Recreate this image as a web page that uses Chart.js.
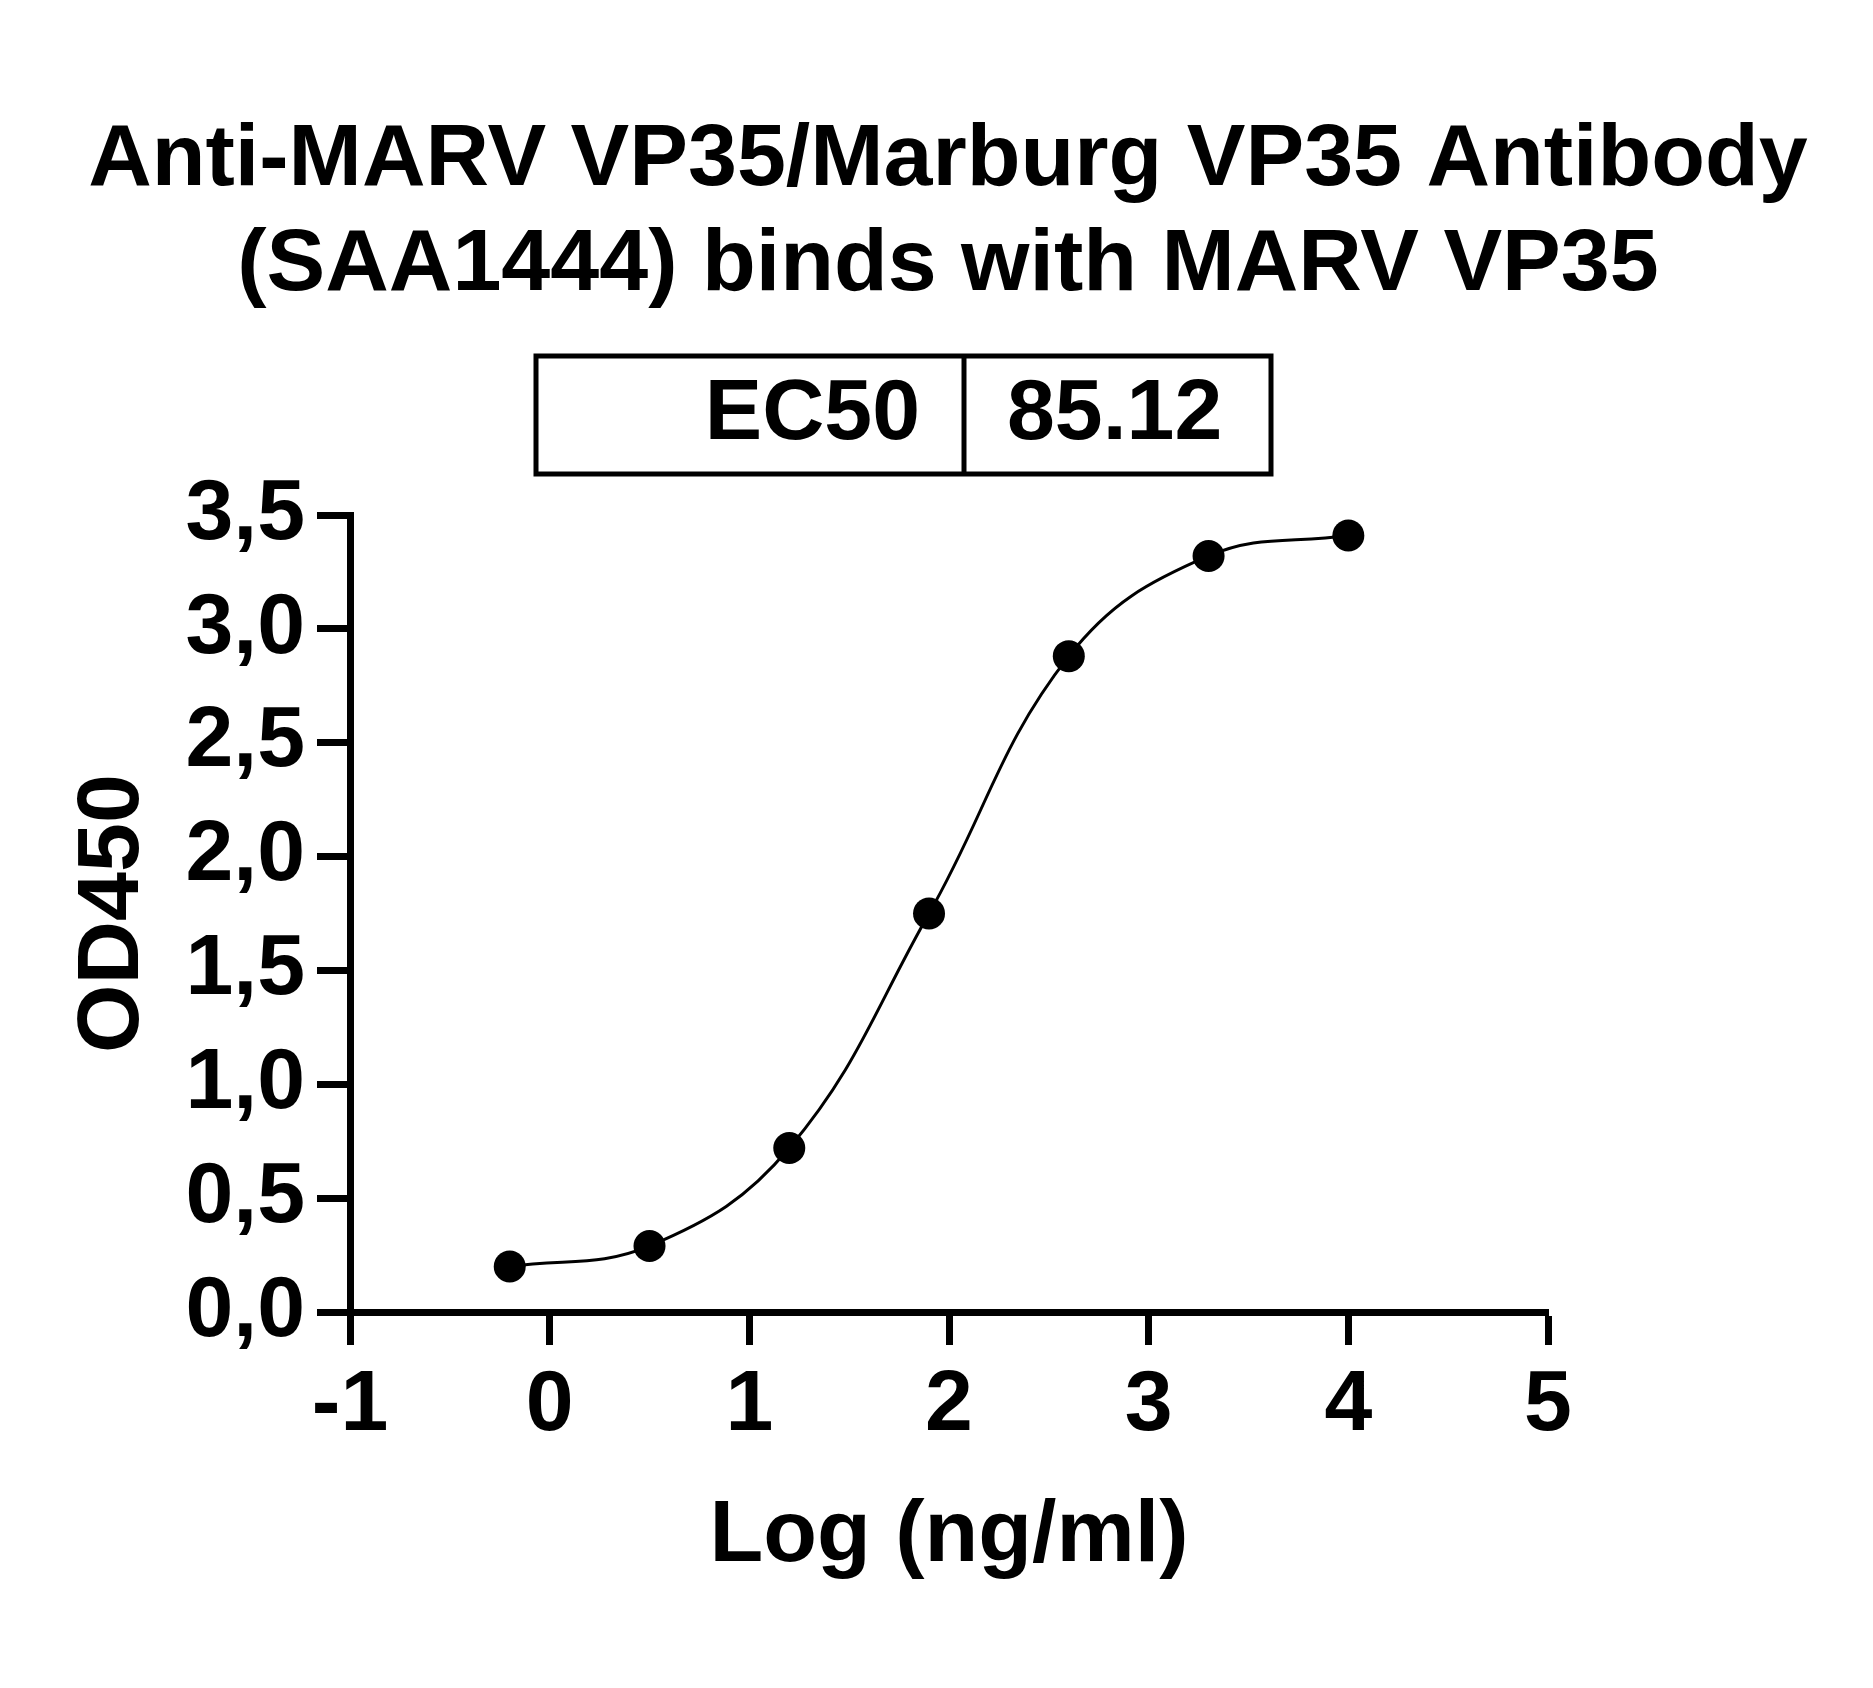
<!DOCTYPE html>
<html>
<head>
<meta charset="utf-8">
<title>Anti-MARV VP35 binding curve</title>
<script src="https://cdn.jsdelivr.net/npm/chart.js@4.4.1/dist/chart.umd.min.js"></script>
<style>
  html, body { margin: 0; padding: 0; background: #fff; }
  #wrap { width: 1873px; height: 1688px; position: relative; }
</style>
</head>
<body>
<div id="wrap"><canvas id="curveChart"></canvas></div>
<script>
// data
const logConc = [-0.2, 0.5, 1.2, 1.9, 2.6, 3.3, 4.0];
const od450 = [0.20, 0.29, 0.72, 1.75, 2.88, 3.32, 3.41];

// tick labels (comma decimals like the original)
const xTickLabels = ['-1', '0', '1', '2', '3', '4', '5'];
const yTickLabels = ['0,0', '0,5', '1,0', '1,5', '2,0', '2,5', '3,0', '3,5'];

const titleLines = ['Anti-MARV VP35/Marburg VP35 Antibody', '(SAA1444) binds with MARV VP35'];
const ec50Label = 'EC50';
const ec50Value = '85.12';

const FONT = "'Liberation Sans', Arial, sans-serif";

// title + EC50 box above the plot (drawn over the full width, not just the plot area)
const header = {
    id: 'header',
    afterDraw(chart) {
        const ctx = chart.ctx;
        ctx.save();
        ctx.fillStyle = '#000';
        ctx.textAlign = 'center';
        ctx.textBaseline = 'alphabetic';
        ctx.font = 'bold 88px ' + FONT;
        ctx.fillText(titleLines[0], 948, 185);
        ctx.fillText(titleLines[1], 948, 290);

        const left = 536, right = 1271, top = 356, bottom = 474, mid = 964;
        ctx.strokeStyle = '#000';
        ctx.lineWidth = 5;
        ctx.strokeRect(left, top, right - left, bottom - top);
        ctx.beginPath();
        ctx.moveTo(mid, top);
        ctx.lineTo(mid, bottom);
        ctx.stroke();
        ctx.font = 'bold 86px ' + FONT;
        ctx.textBaseline = 'middle';
        ctx.textAlign = 'right';
        ctx.fillText(ec50Label, mid - 44, (top + bottom) / 2);
        ctx.textAlign = 'left';
        ctx.fillText(ec50Value, mid + 43, (top + bottom) / 2);
        ctx.restore();
    }
};

const ctx = document.getElementById('curveChart').getContext('2d');
new Chart(ctx, {
    type: 'line',
    data: {
        datasets: [{
            data: logConc.map((x, i) => ({ x: x, y: od450[i] })),
            borderColor: '#000',
            borderWidth: 3,
            pointRadius: 16,
            pointHoverRadius: 16,
            pointBackgroundColor: '#000',
            pointBorderWidth: 0,
            tension: 0.4,
            fill: false
        }]
    },
    options: {
        responsive: true,
        maintainAspectRatio: false,
        animation: false,
        layout: { padding: { left: 0, top: 515, right: 325, bottom: 0 } },
        plugins: {
            legend: { display: false },
            tooltip: { enabled: false },
            title: { display: false }
        },
        scales: {
            x: {
                type: 'linear',
                min: -1,
                max: 5,
                afterFit: (scale) => { scale.height = 376; },
                ticks: {
                    stepSize: 1,
                    padding: 10,
                    color: '#000',
                    font: { family: FONT, size: 86, weight: 'bold' },
                    callback: (value, index) => xTickLabels[index]
                },
                grid: { drawOnChartArea: false, drawTicks: true, tickLength: 33, tickWidth: 7, tickColor: '#000' },
                border: { display: true, width: 7, color: '#000' },
                title: {
                    display: true,
                    text: 'Log (ng/ml)',
                    color: '#000',
                    font: { family: FONT, size: 88, weight: 'bold' },
                    padding: { top: 0, bottom: 98 }
                }
            },
            y: {
                min: 0,
                max: 3.5,
                afterFit: (scale) => { scale.width = 350; },
                ticks: {
                    stepSize: 0.5,
                    padding: 12,
                    color: '#000',
                    font: { family: FONT, size: 86, weight: 'bold' },
                    callback: (value, index) => yTickLabels[index]
                },
                grid: { drawOnChartArea: false, drawTicks: true, tickLength: 33, tickWidth: 7, tickColor: '#000' },
                border: { display: true, width: 7, color: '#000' },
                title: {
                    display: true,
                    text: 'OD450',
                    color: '#000',
                    font: { family: FONT, size: 88, weight: 'bold' },
                    padding: { top: 61, bottom: 0 }
                }
            }
        }
    },
    plugins: [header]
});
</script>
</body>
</html>
